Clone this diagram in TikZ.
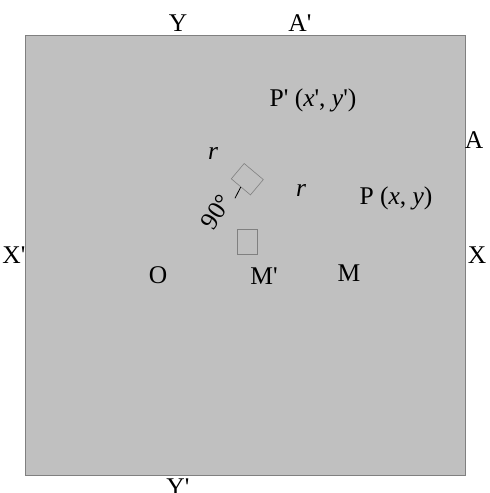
\documentclass[tikz,border=0pt]{standalone}
\usepackage{xcolor}
\usepackage{fontspec}
\setmainfont{Liberation Serif}[Ligatures=TeXOff]
\usetikzlibrary{positioning, calc}
\definecolor{plane}{RGB}{192,192,192}
\definecolor{edge}{RGB}{128,128,128}

\begin{document}
\begin{tikzpicture}[x=1pt, y=-1pt,
    lbl/.style={inner sep=0pt, font=\fontsize{25.5}{29}\selectfont},
    mark box/.style={draw=edge, line width=0.6pt, inner sep=0pt}]
    \useasboundingbox (0,0) rectangle (490,493);
    % the plane
    \draw[fill=plane, draw=edge, line width=0.8pt] (25,35) rectangle (465,475);
    % axis and point labels
    \node[lbl] (y) at (178,23) {Y};
    \node[lbl] (aa) at (300,23) {A'};
    \node[lbl] (xx) at (14,255) {X'};
    \node[lbl] (x) at (477,255) {X};
    \node[lbl] (a) at (474,140) {A};
    \node[lbl] (yy) at (178,487) {Y'};
    \node[lbl] (o) at (158,275) {O};
    \node[lbl] (mm) at (264,276) {M'};
    \node[lbl] (m) at (349,273) {M};
    \node[lbl] (pp) at (313,100) {P' (\textit{x}', \textit{y}')};
    \node[lbl] (p) at (396,198) {P (\textit{x}, \textit{y})};
    \node[lbl] (r1) at (213,153) {\textit{r}};
    \node[lbl] (r2) at (301,190) {\textit{r}};
    % right angle marks
    \node[mark box, minimum width=25pt, minimum height=20pt, rotate=-40] (ang) at (247.3,179.2) {};
    \node[mark box, minimum width=20pt, minimum height=25pt] (sq) at (247,241.5) {};
    \coordinate (tick) at (235,198.3);
    \draw[line width=0.8pt] ($(ang.south west)!0.5!(ang.south east)$) -- (tick);
    \node[lbl, rotate=57] (deg) at (216,212) {90°};
\end{tikzpicture}
\end{document}
